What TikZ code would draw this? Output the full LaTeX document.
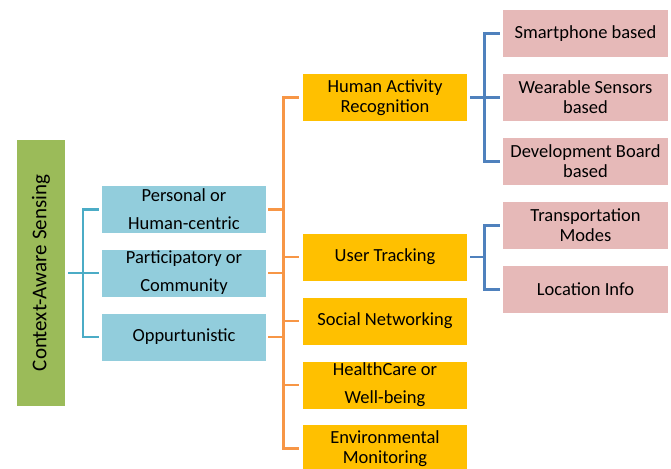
\documentclass[tikz,border=0pt]{standalone}
\usepackage{fontspec}
\setmainfont{Carlito}
\definecolor{casgreen}{HTML}{9BBB59}
\definecolor{kindblue}{HTML}{92CDDC}
\definecolor{appyellow}{HTML}{FFC000}
\definecolor{subpink}{HTML}{E6B9B8}
\definecolor{lineteal}{HTML}{4BACC6}
\definecolor{lineorange}{HTML}{F79646}
\definecolor{lineblue}{HTML}{4F81BD}
\begin{document}
\begin{tikzpicture}[x=1pt,y=-1pt,
  box_node/.style={minimum width=164pt,minimum height=47pt,inner sep=0pt,align=center,font=\fontsize{18.5}{20}\selectfont},
  wide_node/.style={box_node,font=\fontsize{18.5}{28}\selectfont},
  link/.style={line width=2.8pt,line join=miter}]

     \useasboundingbox (0,0) rectangle (671,468);

     % root
     \node[fill=casgreen,minimum width=48pt,minimum height=266pt,inner sep=0pt] (cas) at (41,273)
       {\rotatebox{90}{\fontsize{21}{24}\selectfont Context-Aware Sensing}};

     % kinds of sensing
     \node[wide_node,fill=kindblue] (pers) at (184,209.5) {Personal or\\Human-centric};
     \node[wide_node,fill=kindblue] (part) at (184,273) {Participatory or\\Community};
     \node[box_node,fill=kindblue] (opp) at (184,337) {Oppurtunistic};

     % applications
     \node[box_node,fill=appyellow] (har) at (385,97.5) {Human Activity\\Recognition};
     \node[box_node,fill=appyellow] (ut) at (385,257) {User Tracking};
     \node[box_node,fill=appyellow] (sn) at (385,321) {Social Networking};
     \node[wide_node,fill=appyellow] (hc) at (385,385) {HealthCare or\\Well-being};
     \node[box_node,fill=appyellow] (em) at (385,448.5) {Environmental\\Monitoring};

     % sub-categories
     \node[box_node,minimum width=165pt,fill=subpink] (sp) at (585.5,33.5) {Smartphone based};
     \node[box_node,minimum width=165pt,fill=subpink] (ws) at (585.5,97.5) {Wearable Sensors\\based};
     \node[box_node,minimum width=165pt,fill=subpink] (db) at (585.5,161.5) {Development Board\\based};
     \node[box_node,minimum width=165pt,fill=subpink] (tm) at (585.5,225.5) {Transportation\\Modes};
     \node[box_node,minimum width=165pt,fill=subpink] (li) at (585.5,289.5) {Location Info};

     % root to kinds
     \coordinate (ca) at (83,273);
     \draw[link,lineteal] ([xshift=3]cas.east) -- (ca);
     \draw[link,lineteal] ([xshift=-3]pers.west) -| (ca) |- ([xshift=-3]opp.west);
     \draw[link,lineteal] (ca) -- ([xshift=-3]part.west);

     % kinds to applications
     \draw[link,lineorange] ([xshift=-4]har.west) -- ++(-15,0) |- ([xshift=-4]em.west);
     \foreach \n in {ut,sn,hc}
       \draw[link,lineorange] ([xshift=-4]\n.west) -- ++(-15,0);
     \foreach \n in {pers,part,opp}
       \draw[link,lineorange] ([xshift=2]\n.east) -- ++(16,0);

     % applications to sub-categories
     \draw[link,lineblue] ([xshift=3]har.east) -- ++(15,0);
     \draw[link,lineblue] ([xshift=-3]sp.west) -- ++(-15,0) |- ([xshift=-3]db.west);
     \draw[link,lineblue] ([xshift=-3]ws.west) -- ++(-15,0);
     \draw[link,lineblue] ([xshift=3]ut.east) -- ++(15,0);
     \draw[link,lineblue] ([xshift=-3]tm.west) -- ++(-15,0) |- ([xshift=-3]li.west);

 \end{tikzpicture}
\end{document}
